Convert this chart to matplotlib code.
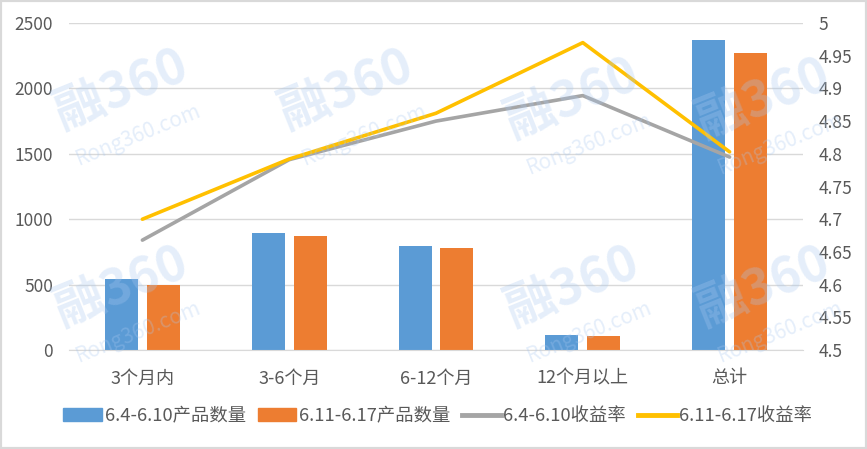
import matplotlib.pyplot as plt
from matplotlib.patches import Patch, Rectangle
from matplotlib.lines import Line2D
import numpy as np

plt.rcParams['font.family'] = ['Noto Sans CJK SC', 'DejaVu Sans']

categories = ["3个月内", "3-6个月", "6-12个月", "12个月以上", "总计"]
count_w1 = [545, 895, 798, 115, 2372]
count_w2 = [498, 872, 780, 108, 2273]
rate_w1 = [4.668, 4.791, 4.850, 4.889, 4.795]
rate_w2 = [4.700, 4.792, 4.862, 4.970, 4.803]
labels = ["6.4-6.10产品数量", "6.11-6.17产品数量", "6.4-6.10收益率", "6.11-6.17收益率"]

blue = "#5B9BD5"
orange = "#ED7D31"
gray = "#A5A5A5"
yellow = "#FFC000"
text_c = "#595959"
grid_c = "#D9D9D9"

fig = plt.figure(figsize=(8.67, 4.49), dpi=100)
ax = fig.add_axes([69 / 867, 1 - 350 / 449, 734 / 867, 327 / 449])
ax2 = ax.twinx()

x = np.arange(len(categories))
w = 0.225
ax.bar(x - 0.1425, count_w1, width=w, color=blue, zorder=2)
ax.bar(x + 0.1425, count_w2, width=w, color=orange, zorder=2)
ax.set_xlim(-0.5, len(categories) - 0.5)
ax.set_ylim(0, 2500)
ax.set_yticks(range(0, 2501, 500))
ax.grid(axis='y', color=grid_c, linewidth=1, zorder=0)
ax.set_axisbelow(True)
ax.set_xticks(x)
ax.set_xticklabels(categories)

ax2.plot(x, rate_w1, color=gray, linewidth=2.6, solid_capstyle='round')
ax2.plot(x, rate_w2, color=yellow, linewidth=2.6, solid_capstyle='round')
ax2.set_ylim(4.5, 5.0)
ax2.set_yticks(np.arange(4.5, 5.001, 0.05))
ax2.set_yticklabels(["4.5", "4.55", "4.6", "4.65", "4.7", "4.75", "4.8", "4.85", "4.9", "4.95", "5"])

for a in (ax, ax2):
    for s in a.spines.values():
        s.set_visible(False)
    a.tick_params(length=0, colors=text_c, labelsize=12.5)
ax.tick_params(axis='y', pad=11.5)
ax.tick_params(axis='x', pad=14, labelsize=13)
ax2.tick_params(axis='y', pad=11.5)
ax.spines['bottom'].set_visible(True)
ax.spines['bottom'].set_color(grid_c)

# faint watermark
for wx, wy in [(0.14, 0.80), (0.14, 0.36), (0.40, 0.80), (0.66, 0.78), (0.66, 0.36), (0.88, 0.78), (0.88, 0.36)]:
    fig.text(wx, wy, "融360", fontsize=36, color="#A9C8F0", alpha=0.3, rotation=22,
             ha='center', va='center', fontweight='bold', zorder=10)
    fig.text(wx + 0.02, wy - 0.1, "Rong360.com", fontsize=15, color="#A9C8F0", alpha=0.3,
             rotation=22, ha='center', va='center', zorder=10)

handles = [
    Patch(color=blue),
    Patch(color=orange),
    Line2D([0], [0], color=gray, linewidth=3.5),
    Line2D([0], [0], color=yellow, linewidth=3.5),
]
fig.legend(handles, labels, loc='center', bbox_to_anchor=(0.505, 1 - 416 / 449), ncol=4,
           frameon=False, fontsize=13.2, labelcolor=text_c, handlelength=2.1,
           handletextpad=0.15, columnspacing=0.65)

fig.patches.append(Rectangle((0, 0), 1, 1, transform=fig.transFigure, fill=False,
                             edgecolor=grid_c, linewidth=3))

fig.savefig("out.png", dpi=100)
